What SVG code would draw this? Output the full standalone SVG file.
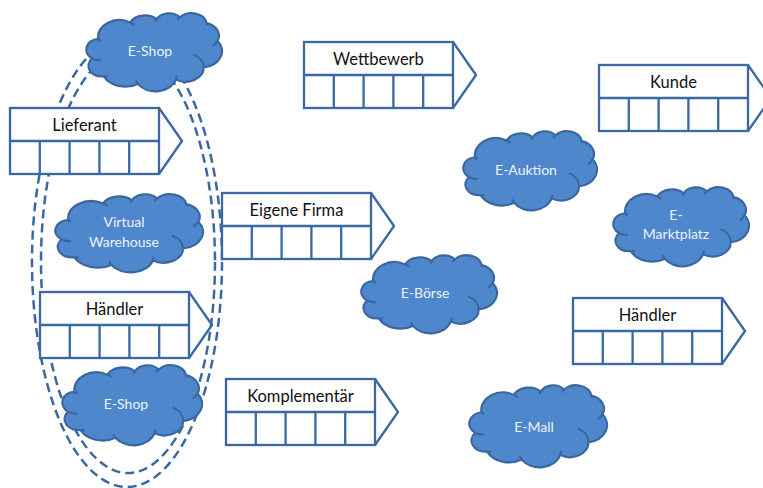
<svg xmlns="http://www.w3.org/2000/svg" xmlns:xlink="http://www.w3.org/1999/xlink" width="763" height="488" viewBox="0 0 763 488">
<style>
.bg{fill:#ffffff}
.ln{fill:none;stroke:#3B68A2;stroke-width:2.3;stroke-linejoin:round}
.cell{fill:#ffffff;stroke:#3B68A2;stroke-width:2.3}
.lbl{font-family:Lato,"Open Sans","Liberation Sans",sans-serif;font-size:16.5px;fill:#111111;text-anchor:middle}
.clbl{font-family:Lato,"Open Sans","Liberation Sans",sans-serif;font-size:14px;fill:#EEF3FA;text-anchor:middle}
.cbody{fill:#4F87CD;stroke:#3A679F;stroke-width:2.2;stroke-linejoin:round}
.chint{fill:none;stroke:#3A679F;stroke-width:2.2}
.dash{fill:none;stroke:#3B68A2;stroke-width:2.5;stroke-dasharray:9 5}
</style>
<defs>
<symbol id="cloud" viewBox="0 0 43200 43200" preserveAspectRatio="none" overflow="visible">
<path class="cbody" vector-effect="non-scaling-stroke" d="M3900,14370 A6753,9190 0 0 1 14005,5202 A5333,7267 0 0 1 22456,3432 A4365,5945 0 0 1 29830,2479 A4857,6595 0 0 1 38315,5573 A5333,7273 0 0 1 41815,15457 A6775,9220 0 0 1 37403,30201 A5785,7867 0 0 1 28555,36812 A6752,9215 0 0 1 16480,39264 A7720,10543 0 0 1 5648,35082 A4360,5918 0 0 1 1958,25160 A4345,5945 0 0 1 3900,14370 Z"/>
<path class="chint" vector-effect="non-scaling-stroke" d="M4693,26177 A4345,5945 0 0 1 2159,25381 M6928,34899 A4360,5918 0 0 1 5819,35281 M16478,39090 A6752,9215 0 0 1 15810,37349 M28827,34751 A6752,9215 0 0 1 28560,36661 M34129,22954 A5785,7867 0 0 1 37380,30089 M41798,15354 A5333,7273 0 0 1 40350,18031 M38324,5426 A4857,6595 0 0 1 38401,6689 M29078,3952 A4857,6595 0 0 1 29821,2339 M22141,4720 A4365,5945 0 0 1 22500,3330 M14000,5192 A6753,9190 0 0 1 15300,6541 M4127,15789 A6753,9190 0 0 1 4551,14339"/>
</symbol>
<g id="chain">
<rect class="cell" x="0" y="0" width="149" height="66"/>
<path class="ln" d="M0,33 H149 M29.8,33 V66 M59.6,33 V66 M89.4,33 V66 M119.2,33 V66 M149,0 L172,33 L149,66"/>
</g>
</defs>
<rect class="bg" x="0" y="0" width="763" height="488"/>

<g id="connectors">
<ellipse class="dash" cx="127" cy="262" rx="95" ry="225"/>
<ellipse class="dash" cx="128" cy="262" rx="87" ry="211"/>
</g>

<g id="lieferant" transform="translate(10,108)">
<use xlink:href="#chain" href="#chain"/>
<text class="lbl" x="74.5" y="23">Lieferant</text>
</g>
<g id="wettbewerb" transform="translate(304,42)">
<use xlink:href="#chain" href="#chain"/>
<text class="lbl" x="74.5" y="23">Wettbewerb</text>
</g>
<g id="kunde" transform="translate(599,65)">
<use xlink:href="#chain" href="#chain"/>
<text class="lbl" x="74.5" y="23">Kunde</text>
</g>
<g id="eigene-firma" transform="translate(222,193)">
<use xlink:href="#chain" href="#chain"/>
<text class="lbl" x="74.5" y="23">Eigene Firma</text>
</g>
<g id="haendler-links" transform="translate(40,292)">
<use xlink:href="#chain" href="#chain"/>
<text class="lbl" x="74.5" y="23">Händler</text>
</g>
<g id="haendler-rechts" transform="translate(573,298)">
<use xlink:href="#chain" href="#chain"/>
<text class="lbl" x="74.5" y="23">Händler</text>
</g>
<g id="komplementaer" transform="translate(226,379)">
<use xlink:href="#chain" href="#chain"/>
<text class="lbl" x="74.5" y="23">Komplementär</text>
</g>

<g id="eshop-oben">
<use xlink:href="#cloud" href="#cloud" x="86" y="13" width="136" height="78"/>
<text class="clbl" x="150" y="56">E-Shop</text>
</g>
<g id="virtual-warehouse">
<use xlink:href="#cloud" href="#cloud" x="55" y="194" width="148" height="78"/>
<text class="clbl" x="124" y="227">Virtual</text>
<text class="clbl" x="124" y="247">Warehouse</text>
</g>
<g id="eshop-unten">
<use xlink:href="#cloud" href="#cloud" x="62" y="365" width="140" height="80"/>
<text class="clbl" x="126" y="409">E-Shop</text>
</g>
<g id="e-auktion">
<use xlink:href="#cloud" href="#cloud" x="463" y="131" width="134" height="79"/>
<text class="clbl" x="526" y="175">E-Auktion</text>
</g>
<g id="e-marktplatz">
<use xlink:href="#cloud" href="#cloud" x="613" y="187" width="136" height="79"/>
<text class="clbl" x="676" y="220">E-</text>
<text class="clbl" x="676" y="239">Marktplatz</text>
</g>
<g id="e-boerse">
<use xlink:href="#cloud" href="#cloud" x="361" y="255" width="136" height="78"/>
<text class="clbl" x="425" y="298">E-Börse</text>
</g>
<g id="e-mall">
<use xlink:href="#cloud" href="#cloud" x="469" y="385" width="138" height="82"/>
<text class="clbl" x="534" y="432">E-Mall</text>
</g>
</svg>
